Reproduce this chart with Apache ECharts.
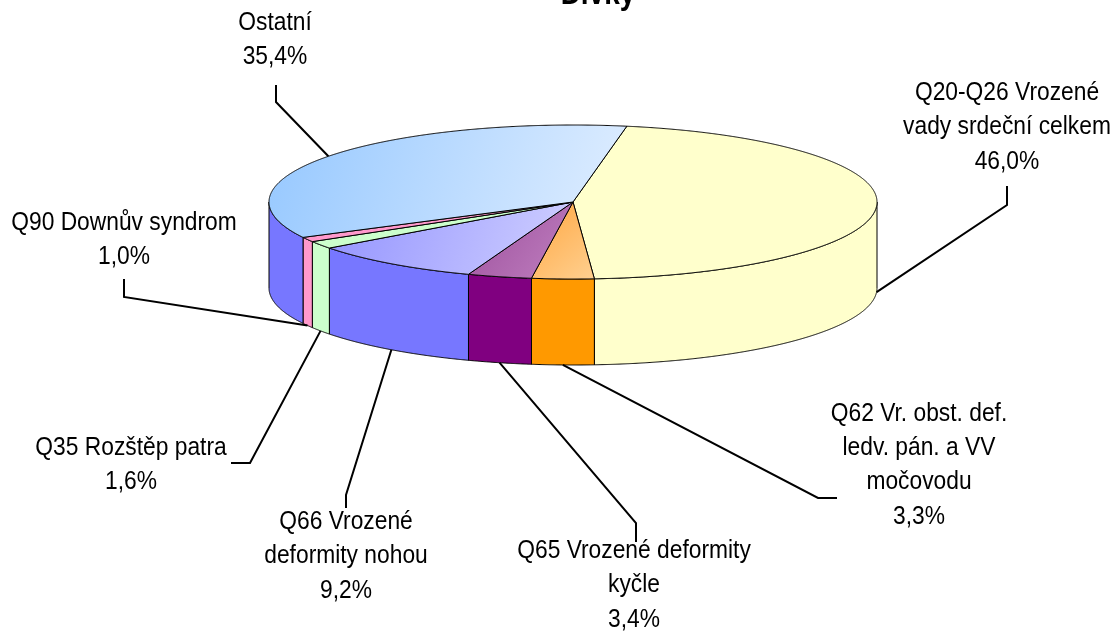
<!DOCTYPE html>
<html>
 <head>
  <meta charset="utf-8">
  <title>Dívky</title>
  <script src="https://cdn.jsdelivr.net/npm/echarts@6/dist/echarts.min.js"></script>
  <style>
    html, body, #container {
    width: 100%;
    height: 100%;
    margin: 0;
    padding: 0;
    background: #ffffff;
    }
  </style>
 </head>

<body>
  <div id="container"></div>
  <script>
    // data (percent of cases)
    var categories = [
      'Q20-Q26 Vrozené\nvady srdeční celkem',
      'Q62 Vr. obst. def.\nledv. pán. a VV\nmočovodu',
      'Q65 Vrozené deformity\nkyčle',
      'Q66 Vrozené\ndeformity nohou',
      'Q35 Rozštěp patra',
      'Q90 Downův syndrom',
      'Ostatní'
    ];
    var values = [46.0, 3.3, 3.4, 9.2, 1.6, 1.0, 35.4];

    // look
    var topColors = [
      ['#ffffcc', '#ffffcc'],
      ['#ffa640', '#ffd090'],
      ['#9c4f9c', '#c080c0'],
      ['#9494ff', '#d0d0ff'],
      ['#ccffcc', '#ccffcc'],
      ['#ff99cc', '#ff99cc'],
      ['#96c8ff', '#e0eeff']
    ];
    var sideColors = ['#ffffcc', '#ff9900', '#800080', '#7777ff', '#ccffcc', '#ff99cc', '#7777ff'];

    // label placement: text centre, bend of the leader, end of the leader
    var labelLayout = [
      { tx: 1007, ty: 127, bend: [1007, 205], end: [1007, 186] },
      { tx: 919, ty: 465, bend: [818, 498], end: [837, 498] },
      { tx: 634, ty: 585, bend: [636, 523], end: [636, 542] },
      { tx: 346, ty: 556, bend: [346, 495], end: [346, 508] },
      { tx: 131, ty: 465, bend: [250, 463], end: [231, 463] },
      { tx: 124, ty: 240, bend: [124, 297], end: [124, 279] },
      { tx: 275, ty: 40, bend: [276, 102], end: [276, 85] }
    ];

    var flatten = 77 / 304;   // vertical squash of the pie
    var depth = 86;           // thickness of the pie

    var total = 0;
    var starts = [];
    values.forEach(function (v) { starts.push(total); total += v; });

    function pct(v) {
      return v.toFixed(1).replace('.', ',') + '%';
    }

    function ellipsePoint(api, c, v) {
      var p = api.coord([1, v]);
      return [p[0], c[1] + (p[1] - c[1]) * flatten];
    }

    function renderSlice(params, api) {
      var i = params.dataIndex;
      var v0 = api.value(1);
      var v1 = api.value(2);
      var c = api.coord([0, 0]);
      var n = Math.max(10, Math.ceil((v1 - v0) * 20));
      var arc = [];
      for (var k = 0; k <= n; k++) {
        arc.push(ellipsePoint(api, c, v0 + (v1 - v0) * k / n));
      }
      var children = [];

      // side wall for the front half
      var runs = [], run = [];
      arc.forEach(function (p) {
        if (p[1] >= c[1] - 0.01) {
          run.push(p);
        } else if (run.length) {
          runs.push(run); run = [];
        }
      });
      if (run.length) runs.push(run);
      runs.forEach(function (r) {
        if (r.length < 2) return;
        var pts = r.slice();
        for (var j = r.length - 1; j >= 0; j--) pts.push([r[j][0], r[j][1] + depth]);
        children.push({
          type: 'polygon',
          shape: { points: pts },
          style: { fill: sideColors[i], stroke: '#000', lineWidth: 1 }
        });
      });

      // top face
      children.push({
        type: 'polygon',
        shape: { points: [c].concat(arc) },
        style: {
          fill: new echarts.graphic.LinearGradient(0, 0, 1, 1, [
            { offset: 0, color: topColors[i][0] },
            { offset: 1, color: topColors[i][1] }
          ]),
          stroke: '#000',
          lineWidth: 1
        }
      });

      // leader line
      var lay = labelLayout[i];
      var a = ellipsePoint(api, c, (v0 + v1) / 2);
      if (a[1] > c[1]) a = [a[0], a[1] + depth];
      children.push({
        type: 'polyline',
        z2: 10,
        shape: { points: [a, lay.bend, lay.end] },
        style: { stroke: '#000', lineWidth: 2, fill: null }
      });

      // label
      children.push({
        type: 'text',
        z2: 11,
        x: lay.tx,
        y: lay.ty,
        scaleY: 1.17,
        style: {
          text: categories[i] + '\n' + pct(values[i]),
          x: 0,
          y: 0,
          align: 'center',
          verticalAlign: 'middle',
          fontSize: 22.8,
          fontFamily: 'Liberation Sans',
          lineHeight: 29.2,
          fill: '#000'
        }
      });

      return { type: 'group', children: children };
    }

    var chartDom = document.getElementById('container');
    var myChart = echarts.init(chartDom);

    var options = {
      animation: false,
      backgroundColor: '#ffffff',
      polar: { center: [573, 202], radius: 304 },
      angleAxis: {
        type: 'value', min: 0, max: total, startAngle: 79.8, clockwise: true,
        axisLine: { show: false }, axisTick: { show: false },
        axisLabel: { show: false }, splitLine: { show: false }
      },
      radiusAxis: {
        type: 'value', min: 0, max: 1,
        axisLine: { show: false }, axisTick: { show: false },
        axisLabel: { show: false }, splitLine: { show: false }
      },
      graphic: [{
        type: 'text',
        x: 598,
        y: -5,
        scaleY: 1.2,
        style: {
          text: 'Dívky',
          fontSize: 28,
          fontWeight: 'bold',
          fontFamily: 'Liberation Sans',
          fill: '#000',
          align: 'center',
          verticalAlign: 'middle'
        }
      }],
      series: [{
        type: 'custom',
        coordinateSystem: 'polar',
        data: values.map(function (v, i) { return [1, starts[i], starts[i] + v]; }),
        renderItem: renderSlice
      }]
    };

    myChart.setOption(options);
  </script>
</body>
</html>
